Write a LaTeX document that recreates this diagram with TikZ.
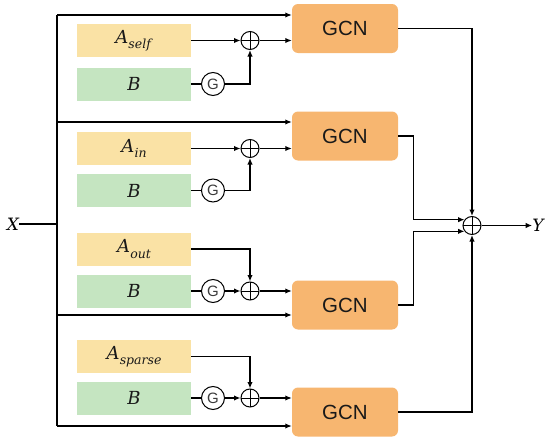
\documentclass[tikz,border=0pt]{standalone}
\usepackage{fontspec}
\newfontfamily\gcnfont{Liberation Sans}
\newfontfamily\mfont{DejaVu Serif}
\usetikzlibrary{arrows.meta,calc}
\definecolor{ayel}{RGB}{250,226,165}
\definecolor{bgrn}{RGB}{197,229,193}
\definecolor{gcno}{RGB}{247,182,112}
\definecolor{txt}{RGB}{25,25,25}
\newcommand\asub[1]{\textit{A}\kern0.2pt\raisebox{-0.3em}{\fontsize{12.5}{14}\selectfont\textit{#1}}}
\begin{document}
\begin{tikzpicture}[x=1pt,y=-1pt,
 abox/.style={fill=ayel, minimum width=114pt, minimum height=33pt, inner sep=0pt, text=txt, font=\mfont\fontsize{18}{21}\selectfont},
 bbox/.style={abox, fill=bgrn},
 gcn/.style={fill=gcno, rounded corners=6pt, minimum width=106pt, minimum height=49pt, inner sep=0pt, text=txt, font=\gcnfont\fontsize{20.5}{24}\selectfont},
 gnode/.style={circle, draw, line width=1pt, minimum size=23pt, inner sep=0pt, text=txt!85, font=\gcnfont\fontsize{15}{17}\selectfont},
 pnode/.style={circle, draw, line width=1pt, minimum size=18pt, inner sep=0pt,
   path picture={\draw[line width=0.9pt] (path picture bounding box.north) -- (path picture bounding box.south) (path picture bounding box.west) -- (path picture bounding box.east);}},
 conn/.style={line width=1.3pt},
 arr/.style={conn, -{Latex[length=6.5pt,width=5.5pt]}},
 lbl/.style={inner sep=0pt, font=\mfont\fontsize{17}{20}\selectfont\itshape}
]
\useasboundingbox (0,0) rectangle (550,447);

% left input
\node[lbl] (X) at (13,224) {X};
\coordinate (x0) at (57,224);
\coordinate (x1) at (57,15);
\coordinate (x2) at (57,122);
\coordinate (x3) at (57,315);
\coordinate (x4) at (57,426);

% group 1
\node[abox] (A1) at (134,40.5) {\asub{self}};
\node[bbox] (B1) at (134,84) {\textit{B}};
\node[gnode] (G1) at (213,84) {G};
\node[pnode] (P1) at (250,40.5) {};
\node[gcn] (C1) at (345,28.5) {GCN};

% group 2
\node[abox] (A2) at (134,148.5) {\asub{in}};
\node[bbox] (B2) at (134,190.5) {\textit{B}};
\node[gnode] (G2) at (213,190.5) {G};
\node[pnode] (P2) at (250,148.5) {};
\node[gcn] (C2) at (345,136) {GCN};

% group 3
\node[abox] (A3) at (134,249) {\asub{out}};
\node[bbox] (B3) at (134,291) {\textit{B}};
\node[gnode] (G3) at (213,291) {G};
\node[pnode] (P3) at (250,291) {};
\node[gcn] (C3) at (345,305) {GCN};

% group 4
\node[abox] (A4) at (134,356.5) {\asub{sparse}};
\node[bbox] (B4) at (134,398) {\textit{B}};
\node[gnode] (G4) at (213,398) {G};
\node[pnode] (P4) at (250,398) {};
\node[gcn] (C4) at (345,412) {GCN};

% output
\node[pnode] (S) at (472,225.5) {};
\node[lbl] (Y) at (538,225.5) {Y};

% X distribution
\draw[conn] (X.east) -- (x0);
\draw[conn] (x1) -- (x4);
\draw[arr] (x1) -- (C1.west |- x1);
\draw[arr] (x2) -- (C2.west |- x2);
\draw[arr] (x3) -- (C3.west |- x3);
\draw[arr] (x4) -- (C4.west |- x4);

% group 1 connectors
\draw[arr] (A1.east) -- (P1.west);
\draw[conn] (B1.east) -- (G1.west);
\draw[arr] (G1.east) -| (P1.south);
\draw[arr] (P1.east) -- (C1.west |- P1);

% group 2 connectors
\draw[arr] (A2.east) -- (P2.west);
\draw[conn] (B2.east) -- (G2.west);
\draw[arr] (G2.east) -| (P2.south);
\draw[arr] (P2.east) -- (C2.west |- P2);

% group 3 connectors
\draw[arr] (A3.east) -| (P3.north);
\draw[conn] (B3.east) -- (G3.west);
\draw[arr] (G3.east) -- (P3.west);
\draw[arr] (P3.east) -- (C3.west |- P3);

% group 4 connectors
\draw[arr] (A4.east) -| (P4.north);
\draw[conn] (B4.east) -- (G4.west);
\draw[arr] (G4.east) -- (P4.west);
\draw[arr] (P4.east) -- (C4.west |- P4);

% to sum
\draw[arr] (C1.east) -| (S.north);
\draw[arr] (C2.east) -- ++(15,0) |- (S.142);
\draw[arr] (C3.east) -- ++(15,0) |- (S.218);
\draw[arr] (C4.east) -| (S.south);
\draw[arr] (S.east) -- (Y.west);
\end{tikzpicture}
\end{document}
